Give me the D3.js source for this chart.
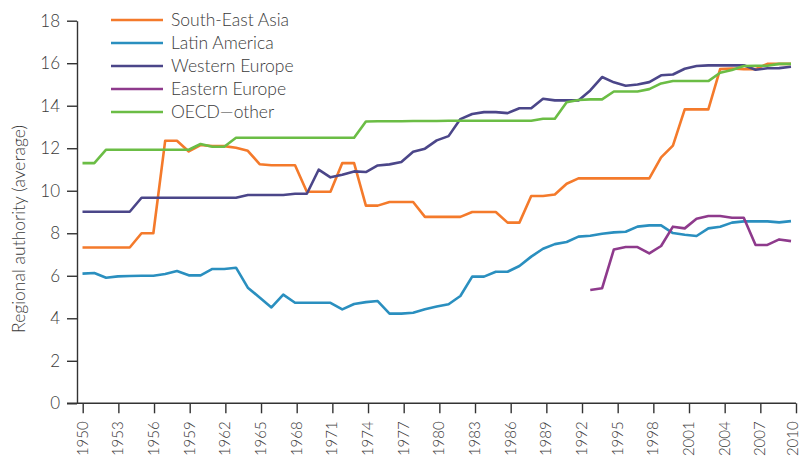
<!DOCTYPE html>
<html>
<head>
<meta charset="utf-8">
<script src="https://cdn.jsdelivr.net/npm/d3@7"></script>
<style>
    body { margin: 0; background: #fff; }
    text { font-family: Lato, "Open Sans", sans-serif; fill: #3a3a3a; }
</style>
</head>
<body>
<div id="chart"></div>
<script>
// categories
let years = d3.range(1950, 2011);
let xTicks = d3.range(1950, 2011, 3);
let yTicks = d3.range(0, 19, 2);

// series values, one per year from 1950 (Eastern Europe from 1993)
let southEastAsia = [
    7.33, 7.33, 7.33, 7.33, 7.33, 8.0, 8.0, 12.35, 12.35, 11.85,
    12.15, 12.1, 12.1, 12.02, 11.88, 11.25, 11.2, 11.2, 11.2, 9.95,
    9.95, 9.95, 11.3, 11.3, 9.3, 9.3, 9.47, 9.47, 9.47, 8.77,
    8.77, 8.77, 8.77, 9.0, 9.0, 9.0, 8.5, 8.5, 9.75, 9.75,
    9.82, 10.33, 10.58, 10.58, 10.58, 10.58, 10.58, 10.58, 10.58, 11.57,
    12.12, 13.83, 13.83, 13.83, 15.72, 15.75, 15.72, 15.72, 15.97, 15.97, 15.97
];
let latinAmerica = [
    6.1, 6.13, 5.91, 5.97, 5.99, 6.0, 6.0, 6.08, 6.22, 6.02,
    6.02, 6.32, 6.32, 6.38, 5.44, 4.98, 4.51, 5.11, 4.73, 4.73,
    4.73, 4.73, 4.42, 4.67, 4.76, 4.81, 4.22, 4.22, 4.26, 4.42,
    4.55, 4.66, 5.05, 5.96, 5.96, 6.19, 6.19, 6.46, 6.9, 7.27,
    7.49, 7.59, 7.84, 7.88, 7.98, 8.04, 8.07, 8.31, 8.37, 8.37,
    8.01, 7.93, 7.87, 8.23, 8.31, 8.5, 8.56, 8.56, 8.56, 8.51, 8.57
];
let westernEurope = [
    9.01, 9.01, 9.01, 9.01, 9.01, 9.67, 9.67, 9.67, 9.67, 9.67,
    9.67, 9.67, 9.67, 9.67, 9.8, 9.8, 9.8, 9.8, 9.86, 9.86,
    10.99, 10.63, 10.75, 10.91, 10.88, 11.19, 11.24, 11.35, 11.83, 11.98,
    12.37, 12.57, 13.37, 13.61, 13.7, 13.7, 13.65, 13.88, 13.88, 14.33,
    14.25, 14.25, 14.25, 14.72, 15.35, 15.1, 14.94, 15.0, 15.11, 15.43,
    15.47, 15.74, 15.87, 15.9, 15.9, 15.9, 15.9, 15.69, 15.76, 15.77, 15.83
];
let easternEurope = [
    5.33, 5.41, 7.24, 7.35, 7.35, 7.05, 7.4,
    8.31, 8.23, 8.68, 8.81, 8.81, 8.73, 8.73, 7.45, 7.45, 7.71, 7.63
];
let oecdOther = [
    11.3, 11.3, 11.93, 11.93, 11.93, 11.93, 11.93, 11.93, 11.93, 11.93,
    12.2, 12.07, 12.07, 12.49, 12.49, 12.49, 12.49, 12.49, 12.49, 12.49,
    12.49, 12.49, 12.49, 12.49, 13.26, 13.27, 13.27, 13.27, 13.28, 13.28,
    13.28, 13.29, 13.29, 13.29, 13.29, 13.29, 13.29, 13.29, 13.29, 13.39,
    13.39, 14.16, 14.27, 14.3, 14.3, 14.67, 14.67, 14.67, 14.78, 15.05,
    15.16, 15.16, 15.16, 15.16, 15.55, 15.68, 15.87, 15.88, 15.88, 15.97, 15.97
];

let seriesNames = ['South-East Asia', 'Latin America', 'Western Europe', 'Eastern Europe', 'OECD\u2014other'];
let seriesStart = [1950, 1950, 1950, 1993, 1950];
let seriesValues = [southEastAsia, latinAmerica, westernEurope, easternEurope, oecdOther];
let seriesColors = ['#f47a2b', '#2a8fbf', '#4b4689', '#8e3a8c', '#6bbd45'];

let width = 802, height = 457;

let svg = d3.select('#chart').append('svg')
    .attr('width', width)
    .attr('height', height);

// data scale and tick scale are slightly out of step in the original
let x = d3.scaleLinear().domain([1950, 2010]).range([82.5, 791]);
let xAxisScale = d3.scaleLinear().domain([1950, 2010]).range([82.7, 796]);
let y = d3.scaleLinear().domain([0, 18]).range([403.3, 20.7]);
let axisX = 77;

// y axis
let gy = svg.append('g')
    .attr('transform', `translate(${axisX},0)`)
    .call(d3.axisLeft(y).tickValues(yTicks).tickSize(10).tickSizeOuter(0).tickPadding(7));
gy.selectAll('text').style('font-size', '17px').style('font-weight', 300);

// x axis
let gx = svg.append('g')
    .attr('transform', `translate(0,${y(0)})`)
    .call(d3.axisBottom(xAxisScale).tickValues(xTicks).tickSize(10).tickSizeOuter(0)
        .tickFormat(d3.format('d')));
gx.select('.domain').remove();
gx.append('line')
    .attr('x1', axisX - 10)
    .attr('x2', xAxisScale.range()[1])
    .attr('stroke', 'currentColor');
gx.selectAll('.tick text')
    .attr('transform', 'rotate(-90)')
    .attr('text-anchor', 'end')
    .attr('x', -18)
    .attr('y', 0)
    // keep the last label inside the picture
    .attr('dy', (d, i) => i === xTicks.length - 1 ? '0.12em' : '0.3em')
    .style('font-size', '15px')
    .style('font-weight', 300);

svg.selectAll('.domain, .tick line, g > line')
    .attr('stroke', '#333')
    .attr('stroke-width', 1.4);
svg.selectAll('.tick text').style('fill', '#3a3a3a');

// axis title
svg.append('text')
    .attr('transform', `translate(19,${(y(0) + y(18)) / 2 + 17}) rotate(-90)`)
    .attr('text-anchor', 'middle')
    .attr('dy', '0.35em')
    .style('font-size', '17.5px')
    .style('font-weight', 300)
    .text('Regional authority (average)');

// lines
let line = d3.line()
    .x(d => x(d.year))
    .y(d => y(d.value));

let series = seriesNames.map((name, i) => ({
    name: name,
    color: seriesColors[i],
    points: seriesValues[i].map((v, j) => ({ year: seriesStart[i] + j, value: v }))
}));

svg.append('g')
    .selectAll('path')
    .data(series)
    .enter().append('path')
    .attr('fill', 'none')
    .attr('stroke', d => d.color)
    .attr('stroke-width', 2.6)
    .attr('stroke-linejoin', 'round')
    .attr('d', d => line(d.points));

// legend
let legend = svg.append('g')
    .attr('transform', 'translate(111,20)');

let item = legend.selectAll('.legend-item')
    .data(series)
    .enter().append('g')
    .attr('class', 'legend-item')
    .attr('transform', (d, i) => `translate(0,${i * 23})`);

item.append('line')
    .attr('x1', 0)
    .attr('x2', 52)
    .attr('stroke', d => d.color)
    .attr('stroke-width', 2.6);

item.append('text')
    .attr('x', 60)
    .attr('dy', '0.35em')
    .style('font-size', '17.5px')
    .style('font-weight', 300)
    .text(d => d.name);
</script>
</body>
</html>
